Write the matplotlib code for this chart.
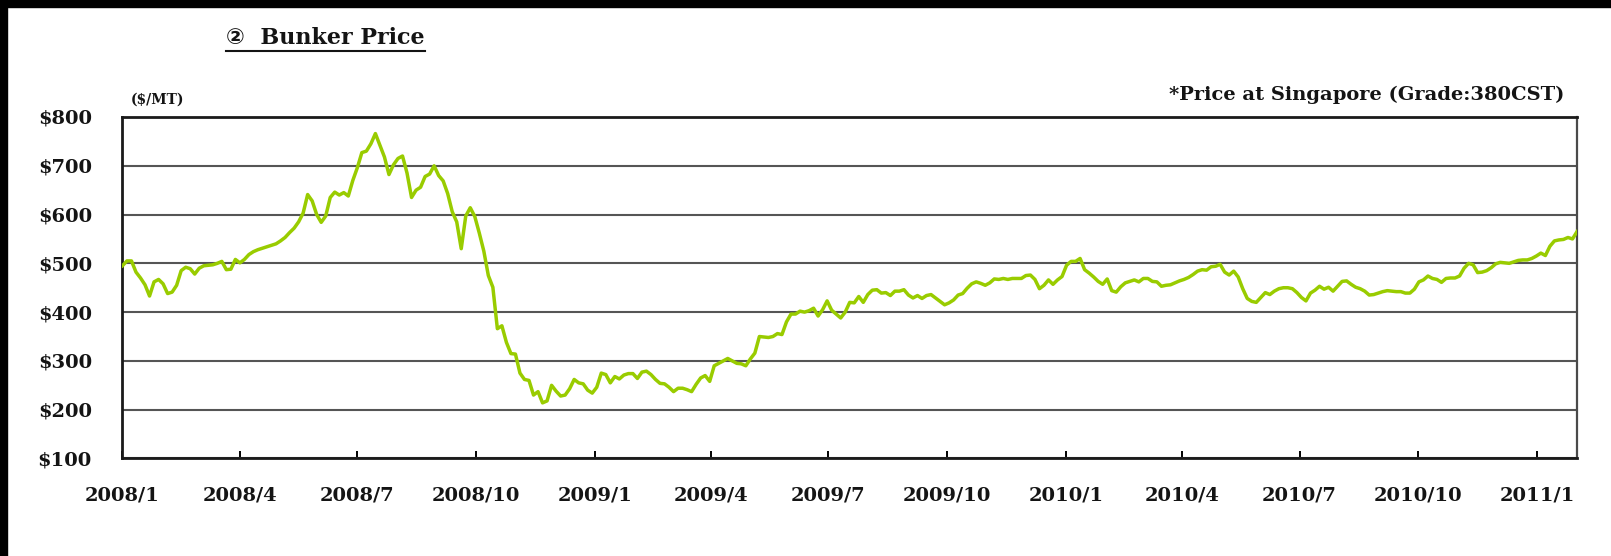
import pandas as pd
import matplotlib
matplotlib.use("Agg")
from matplotlib import pyplot as plt
from matplotlib.lines import Line2D
from matplotlib.patches import Rectangle
import matplotlib.dates as mdates
from matplotlib.ticker import FuncFormatter

# twice-weekly bunker price, Singapore 380CST (US$/MT), starting 2008/1/1
start_date = "2008-01-01"
prices = [
    495, 505, 505, 482, 470, 456, 433, 462, 467, 458,
    438, 441, 455, 485, 492, 489, 478, 490, 495, 496,
    497, 500, 504, 487, 488, 508, 501, 508, 518, 524,
    528, 531, 534, 537, 540, 546, 553, 563, 572, 585,
    603, 641, 628, 600, 584, 597, 635, 646, 640, 645,
    638, 670, 696, 727, 730, 745, 766, 742, 718, 682,
    702, 715, 720, 685, 635, 650, 656, 678, 683, 700,
    680, 669, 643, 606, 585, 530, 597, 614, 596, 562,
    525, 475, 451, 366, 372, 338, 315, 314, 275, 262,
    260, 230, 237, 214, 218, 250, 238, 228, 230, 243,
    262, 255, 253, 240, 234, 246, 275, 272, 255, 268,
    263, 271, 274, 274, 264, 277, 279, 272, 262, 254,
    253, 246, 237, 244, 244, 241, 237, 252, 265, 270,
    258, 290, 295, 300, 305, 300, 295, 294, 290, 304,
    316, 350, 349, 348, 350, 356, 354, 380, 396, 396,
    402, 400, 403, 408, 392, 405, 423, 404, 396, 388,
    400, 420, 419, 432, 420, 436, 445, 446, 439, 440,
    434, 443, 443, 446, 435, 429, 434, 428, 434, 436,
    429, 422, 415, 419, 425, 435, 438, 449, 458, 462,
    459, 455, 460, 468, 467, 469, 467, 469, 469, 469,
    475, 476, 467, 448, 455, 466, 457, 466, 473, 496,
    504, 504, 510, 487, 480, 472, 463, 457, 468, 444,
    441, 452, 460, 463, 466, 462, 469, 469, 463, 462,
    453, 455, 456, 460, 464, 467, 471, 477, 484, 487,
    486, 493, 494, 498, 482, 476, 484, 472, 448, 428,
    422, 420, 430, 440, 436, 443, 448, 450, 450, 448,
    440, 430, 423, 439, 445, 453, 447, 451, 443, 453,
    463, 464, 457, 451, 448, 443, 435, 436, 439, 442,
    444, 443, 442, 442, 439, 439, 447, 462, 466, 474,
    469, 467, 461, 469, 470, 470, 474, 490, 500, 497,
    481, 482, 485, 491, 499, 502, 501, 500, 503, 506,
    507, 507, 510, 515, 521, 516, 535, 546, 548, 549,
    553, 550, 565,
]
y_ticks = [100, 200, 300, 400, 500, 600, 700, 800]
tick_months = [1, 4, 7, 10]
x_start, x_end = "2008-01-01", "2011-02-01"

dates = pd.date_range(start_date, periods=len(prices), freq="84h")

plt.rcParams["font.family"] = ["DejaVu Serif", "DejaVu Sans"]
plt.rcParams["font.weight"] = "bold"
text_color = "#141414"

fig = plt.figure(figsize=(16.11, 5.56), dpi=100)
ax = fig.add_axes([0.0760, 0.1754, 0.9029, 0.6142])

ax.plot(dates, prices, color="#99cc00", lw=2.5, solid_joinstyle="round", zorder=3)

ax.set_ylim(100, 800)
ax.set_xlim(pd.Timestamp(x_start), pd.Timestamp(x_end))
ax.set_yticks(y_ticks)
ax.set_yticklabels([f"${v}" for v in y_ticks])
ax.xaxis.set_major_locator(mdates.MonthLocator(bymonth=tick_months))
ax.xaxis.set_major_formatter(FuncFormatter(
    lambda v, pos: f"{mdates.num2date(v).year}/{mdates.num2date(v).month}"))

ax.yaxis.grid(True, color="#555555", lw=1.5)
ax.tick_params(axis="x", direction="in", length=5, width=1.4, pad=20,
               labelsize=14, labelcolor=text_color)
ax.tick_params(axis="y", length=0, pad=22, labelsize=14, labelcolor=text_color)
for lbl in ax.get_xticklabels() + ax.get_yticklabels():
    lbl.set_fontweight("bold")
for side in ["left", "bottom", "top"]:
    ax.spines[side].set_linewidth(2.0)
    ax.spines[side].set_color("#1a1a1a")
ax.spines["right"].set_linewidth(1.6)
ax.spines["right"].set_color("#4a4a4a")

title = fig.text(226 / 1611, 1 - 38 / 556, "②  Bunker Price", fontsize=16,
                 fontweight="bold", va="center", ha="left", color=text_color)
fig.text(131 / 1611, 1 - 100 / 556, "($/MT)", fontsize=10, fontweight="bold",
         va="center", ha="left", color=text_color)
fig.text(1564 / 1611, 1 - 94.5 / 556, "*Price at Singapore (Grade:380CST)",
         fontsize=14, fontweight="bold", va="center", ha="right", color=text_color)

# underline under the section title
fig.canvas.draw()
bb = title.get_window_extent().transformed(fig.transFigure.inverted())
fig.add_artist(Line2D([bb.x0, bb.x1], [bb.y0 - 0.004] * 2, color=text_color,
                      lw=1.5, transform=fig.transFigure))

# dark frame strips along the top and left edges
fig.patches.append(Rectangle((0, 1 - 7 / 556), 1, 7 / 556, color="black",
                             transform=fig.transFigure, zorder=0))
fig.patches.append(Rectangle((0, 0), 7 / 1611, 1, color="black",
                             transform=fig.transFigure, zorder=0))

fig.savefig("out.png", dpi=100)
